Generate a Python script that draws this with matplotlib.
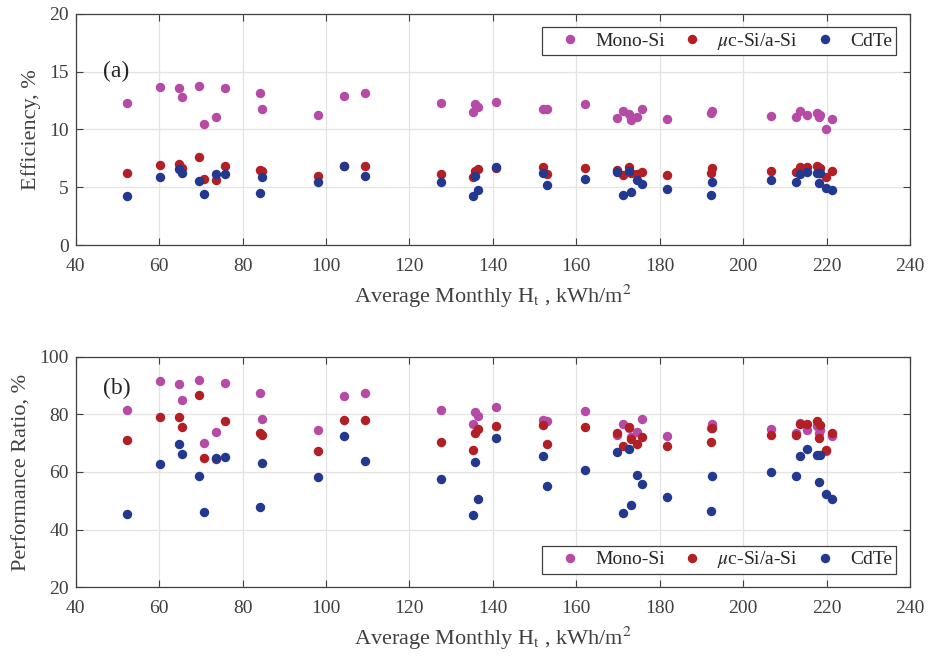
import matplotlib
matplotlib.use("Agg")
import matplotlib.pyplot as plt

plt.rcParams['font.family'] = ['Liberation Serif', 'DejaVu Serif']
plt.rcParams['mathtext.fontset'] = 'stix'

# Average monthly irradiation (kWh/m^2)
ht = [52.2, 60.3, 64.8, 65.4, 69.6, 70.7, 73.6, 75.9, 84.2, 84.7, 98.2, 104.4, 109.4,
      127.5, 135.2, 135.7, 136.4, 140.8, 152.1, 153.0, 162.1, 169.7, 171.3, 172.7,
      173.1, 174.5, 175.7, 181.7, 192.3, 192.5, 206.6, 212.6, 213.7, 215.3, 217.8,
      218.1, 218.4, 219.8, 221.4]

# Efficiency (%)
eff_mono = [12.25, 13.7, 13.6, 12.77, 13.77, 10.5, 11.1, 13.6, 13.1, 11.8, 11.2, 12.9, 13.1,
            12.25, 11.47, 12.16, 11.95, 12.39, 11.73, 11.73, 12.16, 10.95, 11.55, 11.32,
            10.8, 11.09, 11.75, 10.92, 11.38, 11.55, 11.18, 11.03, 11.55, 11.2, 11.38,
            11.03, 11.2, 10.05, 10.89]
eff_mic = [6.22, 6.9, 6.97, 6.68, 7.6, 5.7, 5.62, 6.8, 6.48, 6.37, 5.93, 6.86, 6.86,
           6.14, 5.85, 6.37, 6.57, 6.63, 6.71, 6.14, 6.66, 6.48, 6.05, 6.71,
           6.26, 6.1, 6.34, 6.05, 6.2, 6.63, 6.37, 6.34, 6.77, 6.77, 6.83,
           6.27, 6.69, 5.9, 6.42]
eff_cdte = [4.26, 5.88, 6.54, 6.2, 5.5, 4.38, 6.1, 6.1, 4.52, 5.9, 5.45, 6.8, 5.96,
            5.42, 4.21, 5.99, 4.78, 6.77, 6.2, 5.19, 5.7, 6.31, 4.32, 6.37,
            4.55, 5.59, 5.25, 4.84, 4.32, 5.47, 5.62, 5.47, 6.1, 6.34, 6.19,
            5.33, 6.2, 4.9, 4.73]

# Performance ratio (%)
pr_mono = [81.5, 91.6, 90.6, 85.0, 91.8, 70.0, 73.8, 90.8, 87.4, 78.4, 74.6, 86.2, 87.4,
           81.5, 76.5, 80.7, 79.4, 82.4, 78.0, 77.8, 81.2, 72.9, 76.5, 75.4,
           72.0, 74.0, 78.3, 72.6, 75.2, 76.5, 74.8, 73.4, 77.0, 74.6, 75.9,
           73.5, 74.7, 67.3, 72.5]
pr_mic = [71.2, 79.0, 79.1, 75.7, 86.8, 65.0, 64.5, 77.6, 73.4, 72.8, 67.3, 77.9, 77.9,
          70.3, 67.5, 73.5, 74.9, 75.9, 76.4, 69.8, 75.7, 73.4, 69.0, 75.7,
          71.5, 69.7, 72.2, 69.0, 70.5, 75.4, 72.9, 72.7, 76.5, 76.7, 77.7,
          71.7, 76.2, 67.5, 73.6]
pr_cdte = [45.3, 62.7, 69.8, 66.3, 58.7, 46.2, 64.7, 65.2, 47.7, 63.1, 58.3, 72.4, 63.8,
           57.7, 45.0, 63.6, 50.7, 71.7, 65.4, 55.0, 60.8, 66.9, 45.9, 67.9,
           48.4, 59.1, 55.8, 51.2, 46.5, 58.6, 60.0, 58.6, 65.5, 68.0, 65.8,
           56.6, 66.0, 52.5, 50.5]

labels = ['Mono-Si', r'$\mu$c-Si/a-Si', 'CdTe']
colors = ['#B54BA6', '#B21F24', '#22398F']

xticks = [40, 60, 80, 100, 120, 140, 160, 180, 200, 220, 240]
xlabel = r'Average Monthly H$_{\mathrm{t}}$ , kWh/m$^2$'

axc = '#404040'
fig = plt.figure(figsize=(9.29, 6.61), dpi=100)
ax1 = fig.add_axes([0.0815, 0.6293, 0.898, 0.35])
ax2 = fig.add_axes([0.0815, 0.1115, 0.898, 0.349])

def style(ax, ylim, yticks, ylabel):
    ax.set_xlim(40, 240)
    ax.set_ylim(*ylim)
    ax.set_xticks(xticks)
    ax.set_yticks(yticks)
    ax.grid(True, color='#e3e3e3', linewidth=0.9)
    ax.set_axisbelow(True)
    ax.tick_params(direction='in', length=5, width=0.8, top=True, right=True,
                   colors=axc, labelsize=14, labelcolor=axc)
    ax.tick_params(axis='x', pad=9)
    ax.tick_params(axis='y', pad=5)
    for s in ax.spines.values():
        s.set_color(axc)
        s.set_linewidth(0.9)
    ax.set_xlabel(xlabel, fontsize=16, color=axc, labelpad=6)
    ax.set_ylabel(ylabel, fontsize=16, color=axc, labelpad=6)

series1 = [eff_mono, eff_mic, eff_cdte]
series2 = [pr_mono, pr_mic, pr_cdte]
for ys, c, l in zip(series1, colors, labels):
    ax1.plot(ht, ys, linestyle='none', marker='o', markersize=6.8, color=c,
             markeredgewidth=0, label=l, zorder=3)
for ys, c, l in zip(series2, colors, labels):
    ax2.plot(ht, ys, linestyle='none', marker='o', markersize=6.8, color=c,
             markeredgewidth=0, label=l, zorder=3)

style(ax1, (0, 20), [0, 5, 10, 15, 20], 'Efficiency, %')
style(ax2, (20, 100), [20, 40, 60, 80, 100], 'Performance Ratio, %')

ax1.text(46.5, 15, '(a)', fontsize=17, color='#262626', va='center', ha='left')
ax2.text(46.5, 89, '(b)', fontsize=17, color='#262626', va='center', ha='left')

legkw = dict(ncol=3, fontsize=14, frameon=True, fancybox=False, borderaxespad=0,
             handlelength=2.4, handletextpad=0.1, columnspacing=0.2, borderpad=0.2,
             numpoints=1)
lg1 = ax1.legend(loc='upper right', bbox_to_anchor=(0.9836, 0.9438), **legkw)
lg2 = ax2.legend(loc='lower right', bbox_to_anchor=(0.9836, 0.0564), **legkw)
for lg in (lg1, lg2):
    fr = lg.get_frame()
    fr.set_edgecolor(axc)
    fr.set_linewidth(0.9)
    fr.set_alpha(1)
    for t in lg.get_texts():
        t.set_color('#262626')

fig.savefig('out.png', dpi=100)
